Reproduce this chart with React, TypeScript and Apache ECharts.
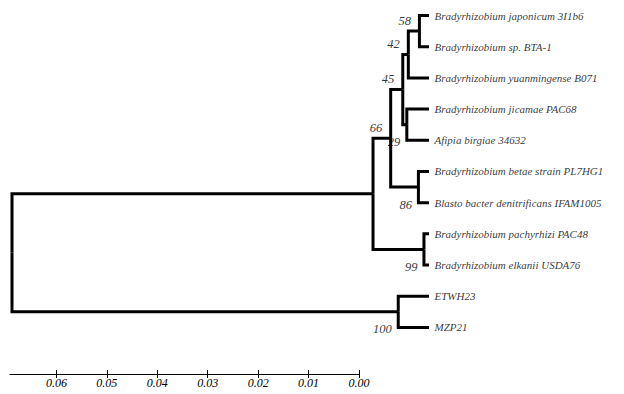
import React, { useEffect, useRef } from "react";
import * as echarts from "echarts";

const leafNames = [
  "Bradyrhizobium japonicum 3I1b6",
  "Bradyrhizobium sp. BTA-1",
  "Bradyrhizobium yuanmingense B071",
  "Bradyrhizobium jicamae PAC68",
  "Afipia birgiae 34632",
  "Bradyrhizobium betae strain PL7HG1",
  "Blasto bacter denitrificans IFAM1005",
  "Bradyrhizobium pachyrhizi PAC48",
  "Bradyrhizobium elkanii USDA76",
  "ETWH23",
  "MZP21",
];

const nodeIds = ["n58", "n42", "nJA", "n45", "n86", "nA", "n99", "n66", "n100", "root"];
const nodeChildren = [
  ["L0", "L1"],
  ["n58", "L2"],
  ["L3", "L4"],
  ["n42", "nJA"],
  ["L5", "L6"],
  ["n45", "n86"],
  ["L7", "L8"],
  ["nA", "n99"],
  ["L9", "L10"],
  ["n66", "n100"],
];
// node heights (distance from tips)
const nodeHeights = [0.0019, 0.0041, 0.0044, 0.0052, 0.0021, 0.0076, 0.001, 0.0111, 0.0061, 0.0827];
const bootstrap = ["58", "42", "29", "45", "86", "66", "99", "", "100", ""];

const scaleTicks = [0, 0.01, 0.02, 0.03, 0.04, 0.05, 0.06];
const scaleMax = 0.0692;
const treeMax = 0.0827;

const FONT = "'Liberation Serif', 'Times New Roman', serif";

export default function App() {
  const ref = useRef<HTMLDivElement>(null);
  useEffect(() => {
    if (!ref.current) return;
    const chart = echarts.init(ref.current, null, { renderer: "svg" });

    const pos: Record<string, { x: number; y: number }> = {};
    leafNames.forEach((_, i) => (pos["L" + i] = { x: 0, y: i }));
    nodeIds.forEach((id, i) => {
      const [a, b] = nodeChildren[i];
      pos[id] = { x: nodeHeights[i], y: (pos[a].y + pos[b].y) / 2 };
    });
    const edges: number[][] = [];
    nodeIds.forEach((id, i) =>
      nodeChildren[i].forEach((c) => edges.push([pos[c].x, pos[c].y, pos[id].x, pos[id].y]))
    );

    const upper = new Set(["n58", "n42", "n45", "nA"]);
    const bsData = nodeIds
      .map((id, i) => ({ id, i }))
      .filter((d) => bootstrap[d.i] !== "")
      .map((d) => ({
        value: [pos[d.id].x, pos[d.id].y, bootstrap[d.i]],
        label: { offset: upper.has(d.id) ? [-8, -10.5] : [-6, 17.5] },
      }));

    const textStyle = {
      fontFamily: FONT,
      fontStyle: "italic" as const,
      fontSize: 11,
      color: "#000",
    };

    chart.setOption({
      animation: false,
      backgroundColor: "#fff",
      textStyle: { fontFamily: FONT },
      grid: [
        { left: 12, right: 195, top: 15.5, height: 311.9 },
        { left: 10, right: 265, top: 373, height: 1 },
      ],
      xAxis: [
        { gridIndex: 0, type: "value", min: 0, max: treeMax, inverse: true, show: false },
        {
          gridIndex: 1,
          type: "value",
          min: 0,
          max: scaleMax,
          inverse: true,
          position: "bottom",
          axisLine: { show: true, lineStyle: { color: "#000", width: 1 } },
          axisTick: { show: true, inside: false, length: 4, customValues: scaleTicks, lineStyle: { color: "#000" } },
          axisLabel: {
            show: true,
            customValues: scaleTicks,
            formatter: (v: number) => v.toFixed(2),
            margin: 3,
            ...textStyle,
            fontSize: 12,
          },
          splitLine: { show: false },
        },
        {
          gridIndex: 1,
          type: "value",
          min: 0,
          max: scaleMax,
          inverse: true,
          position: "bottom",
          axisLine: { show: false },
          axisTick: { show: true, inside: true, length: 4, customValues: scaleTicks, lineStyle: { color: "#000" } },
          axisLabel: { show: false },
          splitLine: { show: false },
        },
      ],
      yAxis: [
        { gridIndex: 0, type: "value", min: 0, max: 10, inverse: true, show: false },
        { gridIndex: 1, type: "value", min: 0, max: 1, show: false },
      ],
      series: [
        {
          type: "scatter",
          xAxisIndex: 0,
          yAxisIndex: 0,
          symbolSize: 1,
          itemStyle: { color: "transparent" },
          silent: true,
          z: 1,
          data: bsData,
          label: {
            show: true,
            position: "left",
            distance: 0,
            formatter: (p: any) => p.value[2],
            ...textStyle,
            fontSize: 12.5,
          },
        },
        {
          type: "custom",
          xAxisIndex: 0,
          yAxisIndex: 0,
          silent: true,
          z: 3,
          encode: { x: [0, 2], y: [1, 3] },
          data: edges,
          renderItem: (params: any, api: any) => {
            const c = api.coord([api.value(0), api.value(1)]);
            const corner = api.coord([api.value(2), api.value(1)]);
            const p = api.coord([api.value(2), api.value(3)]);
            return {
              type: "polyline",
              shape: { points: [p, corner, c] },
              style: { stroke: "#000", lineWidth: 3, fill: "none", lineJoin: "miter", lineCap: "butt" },
            };
          },
        },
        {
          type: "scatter",
          xAxisIndex: 0,
          yAxisIndex: 0,
          symbolSize: 1,
          itemStyle: { color: "transparent" },
          silent: true,
          z: 2,
          data: leafNames.map((n, i) => [0, i, n]),
          label: {
            show: true,
            position: "right",
            distance: 5,
            formatter: (p: any) => p.value[2],
            ...textStyle,
          },
        },
      ],
    });
    return () => chart.dispose();
  }, []);
  return (
    <div
      ref={ref}
      style={{ position: "fixed", left: 0, top: 0, width: 624, height: 394, background: "#fff" }}
    />
  );
}
